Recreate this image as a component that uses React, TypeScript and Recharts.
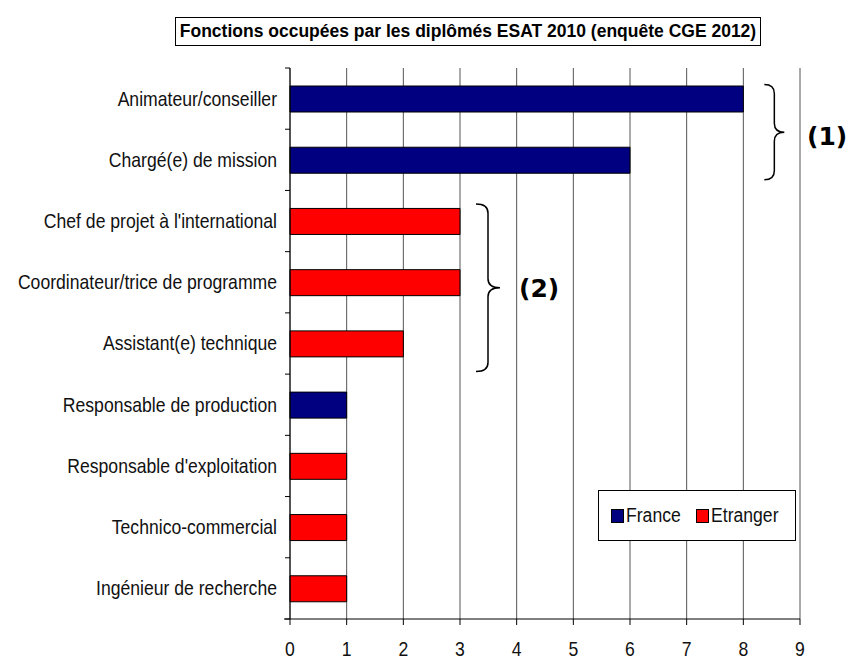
import { BarChart, Bar, XAxis, YAxis, CartesianGrid } from 'recharts';

const categories = [
  'Animateur/conseiller',
  'Chargé(e) de mission',
  "Chef de projet à l'international",
  'Coordinateur/trice de programme',
  'Assistant(e) technique',
  'Responsable de production',
  "Responsable d'exploitation",
  'Technico-commercial',
  'Ingénieur de recherche',
];
const france = [8, 6, 0, 0, 0, 1, 0, 0, 0];
const etranger = [0, 0, 3, 3, 2, 0, 1, 1, 1];
const xTicks = [0, 1, 2, 3, 4, 5, 6, 7, 8, 9];

const data = categories.map((name, i) => ({ name, France: france[i], Etranger: etranger[i] }));

const W = 858;
const H = 660;
const LEFT = 290;
const TOP = 68;
const RIGHT = 800;
const BOTTOM = 619;
const BAND = (BOTTOM - TOP) / categories.length;
const UNIT = (RIGHT - LEFT) / 9;
const FONT = 'Arial, "Liberation Sans", sans-serif';
const SQUEEZE = 0.88;

const xOf = (v: number) => LEFT + v * UNIT;
const yCenter = (i: number) => TOP + BAND * (i + 0.5);

// labels in the source are a narrow arial, so squeeze them horizontally
const CatTick = ({ y, payload, index }: any) => (
  <g>
    <text
      transform={`translate(${LEFT - 13},${y}) scale(${SQUEEZE},1)`}
      textAnchor="end"
      dominantBaseline="central"
      fontSize={20}
      fontFamily={FONT}
      fill="#111"
    >
      {payload.value}
    </text>
    <line x1={LEFT - 5} x2={LEFT} y1={y - BAND / 2} y2={y - BAND / 2} stroke="#000" />
    {index === categories.length - 1 && (
      <line x1={LEFT - 5} x2={LEFT} y1={y + BAND / 2} y2={y + BAND / 2} stroke="#000" />
    )}
  </g>
);

const NumTick = ({ x, payload }: any) => (
  <g>
    <line x1={x} x2={x} y1={BOTTOM} y2={BOTTOM + 6} stroke="#000" />
    <text
      transform={`translate(${x},${BOTTOM + 30}) scale(${SQUEEZE},1)`}
      textAnchor="middle"
      dominantBaseline="central"
      fontSize={20}
      fontFamily={FONT}
      fill="#111"
    >
      {payload.value}
    </text>
  </g>
);

function bracePath(x0: number, y0: number, y1: number, w: number) {
  const xm = x0 + w / 2;
  const ym = (y0 + y1) / 2;
  const q = 9;
  return `M${x0},${y0} Q${xm},${y0} ${xm},${y0 + q} L${xm},${ym - q} Q${xm},${ym} ${x0 + w},${ym} Q${xm},${ym} ${xm},${ym + q} L${xm},${y1 - q} Q${xm},${y1} ${x0},${y1}`;
}

export default function App() {
  return (
    <div style={{ position: 'absolute', left: 0, top: 0, width: W, height: H, background: '#fff' }}>
      <div
        style={{
          position: 'absolute',
          left: 175,
          top: 17,
          width: 584,
          height: 27,
          border: '1px solid #000',
          fontFamily: FONT,
          fontWeight: 'bold',
          fontSize: 17.5,
          lineHeight: '27px',
          textAlign: 'center',
          whiteSpace: 'nowrap',
        }}
      >
        Fonctions occupées par les diplômés ESAT 2010 (enquête CGE 2012)
      </div>
      <BarChart
        width={W}
        height={H}
        data={data}
        layout="vertical"
        barSize={26}
        margin={{ top: TOP, right: W - RIGHT, bottom: 11, left: 0 }}
      >
        <CartesianGrid horizontal={false} stroke="#555" />
        <XAxis
          type="number"
          domain={[0, 9]}
          ticks={xTicks}
          interval={0}
          height={30}
          stroke="#000"
          tickLine={false}
          tick={<NumTick />}
        />
        <YAxis
          type="category"
          dataKey="name"
          width={LEFT}
          stroke="#000"
          tickLine={false}
          tick={<CatTick />}
          interval={0}
        />
        <Bar dataKey="France" stackId="a" fill="#000080" stroke="#000" strokeWidth={1} isAnimationActive={false} />
        <Bar dataKey="Etranger" stackId="a" fill="#FF0000" stroke="#000" strokeWidth={1} isAnimationActive={false} />
      </BarChart>
      <svg width={W} height={H} style={{ position: 'absolute', left: 0, top: 0, pointerEvents: 'none' }}>
        <line x1={LEFT - 6} x2={LEFT} y1={BOTTOM} y2={BOTTOM} stroke="#000" />
        <path d={bracePath(xOf(8) + 21, yCenter(0) - 14, yCenter(1) + 20, 20)} fill="none" stroke="#000" strokeWidth={1.5} />
        <text x={807} y={yCenter(0) + 38} dominantBaseline="central" fontFamily='"DejaVu Sans", sans-serif' fontWeight={700} fontSize={25} fill="#000">
          (1)
        </text>
        <path d={bracePath(xOf(3) + 16, yCenter(2) - 17, yCenter(4) + 28, 24)} fill="none" stroke="#000" strokeWidth={1.5} />
        <text x={519} y={yCenter(3) + 6} dominantBaseline="central" fontFamily='"DejaVu Sans", sans-serif' fontWeight={700} fontSize={25} fill="#000">
          (2)
        </text>
      </svg>
      <div
        style={{
          position: 'absolute',
          left: 598,
          top: 490,
          width: 196,
          height: 49,
          border: '1px solid #000',
          background: '#fff',
          display: 'flex',
          alignItems: 'center',
          fontFamily: FONT,
          fontSize: 20,
          color: '#111',
        }}
      >
        {[
          { label: 'France', color: '#000080' },
          { label: 'Etranger', color: '#FF0000' },
        ].map((s, i) => (
          <span key={s.label} style={{ display: 'flex', alignItems: 'center', marginLeft: i === 0 ? 12 : 18 }}>
            <span style={{ width: 11, height: 12, background: s.color, border: '1px solid #000', marginRight: 2 }} />
            <span style={{ display: 'inline-block', transform: `scaleX(${SQUEEZE})`, transformOrigin: 'left center', width: i === 0 ? 52 : 74 }}>
              {s.label}
            </span>
          </span>
        ))}
      </div>
    </div>
  );
}
